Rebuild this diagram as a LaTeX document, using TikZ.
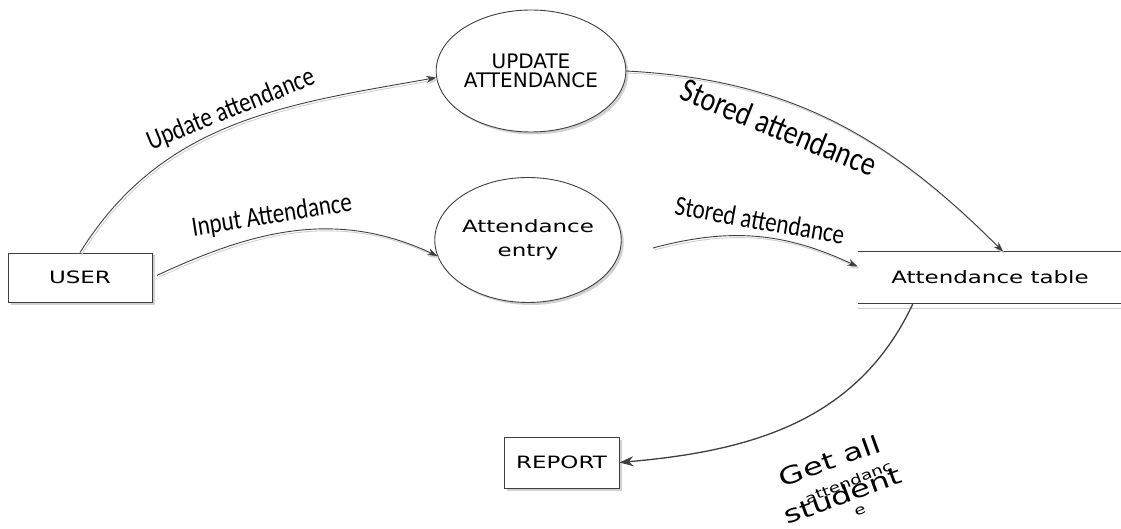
\documentclass[tikz,border=0pt]{standalone}
\usepackage{fontspec}
\setmainfont{DejaVu Sans}
\newfontfamily\boxfont[FakeStretch=1.35]{DejaVu Sans}
\newfontfamily\flowfont[FakeStretch=0.82]{Carlito}
\usetikzlibrary{arrows.meta, shapes.geometric, shadows}
\definecolor{cline}{HTML}{3F3F3F}
\definecolor{cshadow}{HTML}{CFCFCF}
\tikzset{
  every picture/.style={line width=0.9pt},
  boxshadow/.style={drop shadow={shadow xshift=2.5pt, shadow yshift=-2.5pt, fill=black!18, opacity=1}},
  entity/.style={draw=cline, fill=white, inner sep=0pt, font=\boxfont\fontsize{17}{20}\selectfont, boxshadow},
  process/.style={ellipse, draw=cline, fill=white, align=center, inner sep=0pt, boxshadow},
  store/.style={inner sep=0pt, minimum width=264pt, minimum height=51pt, font=\boxfont\fontsize{17}{20}\selectfont},
  arrowline/.style={draw=cline, -{Stealth[length=10pt, width=7pt]}},
  flow/.style={arrowline, preaction={draw=cshadow, transform canvas={shift={(1.5pt,-2pt)}}}},
  flowlabel/.style={font=\flowfont\fontsize{28}{30}\selectfont, inner sep=0pt},
}

\begin{document}
\begin{tikzpicture}[x=1pt, y=1pt]
  \useasboundingbox (0,0) rectangle (1121,-529);
  % external entities
  \node[entity, minimum width=144pt, minimum height=49pt] (user) at (80,-277.5) {USER};
  \node[entity, minimum width=115pt, minimum height=51pt] (report) at (561.5,-462.5) {REPORT};
  % processes
  \node[process, minimum width=174pt, minimum height=122pt, font=\fontsize{20}{19.5}\selectfont] (update) at (531,-71) {UPDATE\\ATTENDANCE};
  \node[process, minimum width=178pt, minimum height=125pt, font=\boxfont\fontsize{17}{24}\selectfont] (entry) at (528,-240) {Attendance\\entry};
  % data store
  \node[store] (table) at (990,-277.5) {Attendance table};
  \draw[cshadow] ([yshift=-5pt]table.south west) -- ([yshift=-5pt]table.south east);
  \draw[cline] (table.north west) -- (table.north east);
  \draw[cline] (table.south west) -- (table.south east);
  \coordinate (sin) at (653,-248);
  % flows
  \draw[flow] (user.north) to[out=58, in=190] (update.184);
  \draw[flow, shorten <=5pt] (user.east) to[out=25, in=155] (entry.190);
  \draw[flow] (update.east) to[out=-3, in=135] ([xshift=13pt]table.north);
  \draw[flow] (sin) to[out=15, in=155] ([yshift=11pt]table.west);
  \draw[arrowline, line width=1.3pt, -{Stealth[length=14pt, width=10pt]}] ([xshift=-77pt]table.south) to[out=-115, in=5] (report.east);
  % labels
  \node[flowlabel, rotate=22] (lupdate) at (231,-110) {Update attendance};
  \node[flowlabel, rotate=9] (linput) at (272,-216) {Input Attendance};
  \node[flowlabel, rotate=-22, font=\flowfont\fontsize{34}{36}\selectfont] (lstored) at (779,-127) {Stored attendance};
  \node[flowlabel, rotate=-10] (lstored2) at (760,-220) {Stored attendance};
  \node[font=\boxfont\fontsize{24}{37}\selectfont, rotate=20, align=center, inner sep=0pt] (lget) at (836,-478) {Get all\\student};
  \node[font=\boxfont\fontsize{13.5}{30}\selectfont, rotate=22, align=center, inner sep=0pt] (latt) at (854,-496) {attendanc\\e};
\end{tikzpicture}
\end{document}
